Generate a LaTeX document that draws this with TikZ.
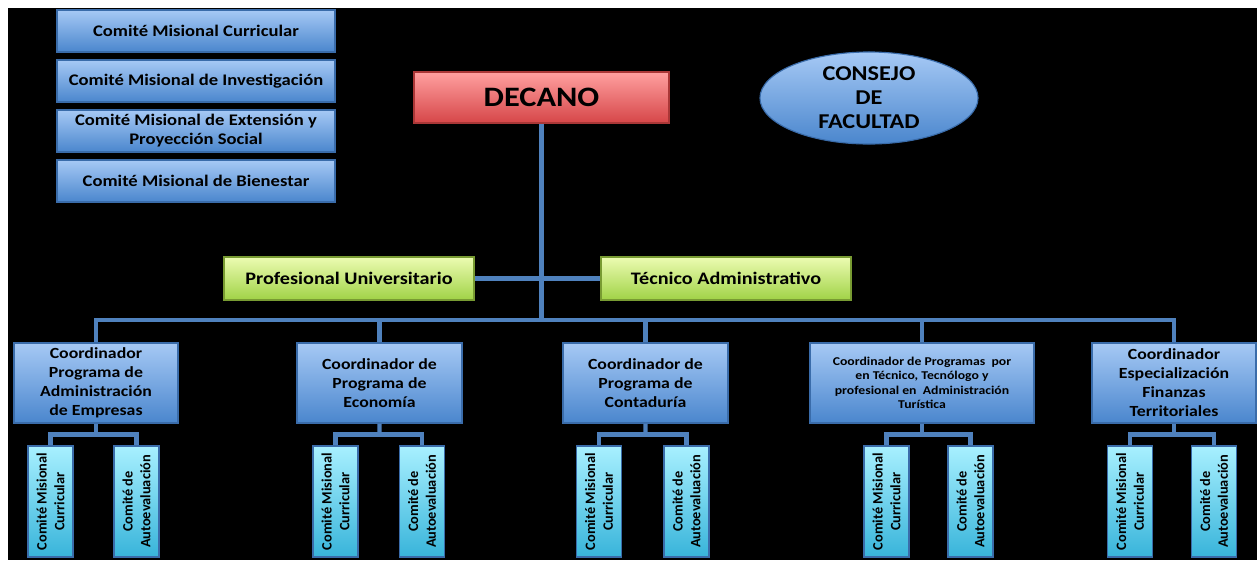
\documentclass[tikz,border=0pt]{standalone}
\usepackage{fontspec}
\setmainfont{Carlito}[FakeStretch=1.15]
\newfontfamily\subfont{Carlito}
\usetikzlibrary{positioning,calc,shapes.geometric}
\definecolor{colBlueTop}{RGB}{166,201,245}
\definecolor{colBlueBot}{RGB}{74,134,205}
\definecolor{colBlueBorder}{RGB}{58,108,170}
\definecolor{colRedTop}{RGB}{255,160,160}
\definecolor{colRedBot}{RGB}{214,70,72}
\definecolor{colRedBorder}{RGB}{170,55,55}
\definecolor{colGreenTop}{RGB}{236,252,178}
\definecolor{colGreenBot}{RGB}{160,210,70}
\definecolor{colGreenBorder}{RGB}{120,155,50}
\definecolor{colCyanTop}{RGB}{168,240,255}
\definecolor{colCyanBot}{RGB}{56,180,218}
\definecolor{lineBlue}{RGB}{79,129,189}

\begin{document}
\begin{tikzpicture}[
  x=0.025cm, y=-0.025cm,
  bluebox/.style={rectangle, draw=colBlueBorder, line width=0.8pt,
    top color=colBlueTop, bottom color=colBlueBot, align=center, inner sep=1pt},
  lcom/.style={bluebox, minimum width=6.95cm, minimum height=1.05cm,
    font=\bfseries\fontsize{11.5}{13.5}\selectfont},
  coord/.style={bluebox, minimum width=4.1cm, minimum height=2cm,
    font=\bfseries\fontsize{11}{13.5}\selectfont},
  decano/.style={rectangle, draw=colRedBorder, line width=0.8pt,
    top color=colRedTop, bottom color=colRedBot, minimum width=6.375cm,
    minimum height=1.275cm, font=\bfseries\fontsize{20}{22}\selectfont},
  consejo/.style={ellipse, draw=colBlueBorder, line width=0.8pt, inner sep=0pt,
    top color=colBlueTop, bottom color=colBlueBot, minimum width=5.45cm,
    minimum height=2.3cm, align=center, font=\bfseries\fontsize{15}{17}\selectfont},
  staff/.style={rectangle, draw=colGreenBorder, line width=0.8pt,
    top color=colGreenTop, bottom color=colGreenBot, minimum width=6.25cm,
    minimum height=1.075cm, font=\bfseries\fontsize{12.5}{14}\selectfont},
  subcom/.style={rectangle, draw=colBlueBorder, line width=0.8pt, rotate=90,
    top color=colCyanTop, bottom color=colCyanBot, minimum width=2.775cm,
    minimum height=1.125cm, inner sep=1pt, align=center,
    font=\subfont\bfseries\fontsize{10.2}{12.5}\selectfont},
  link/.style={draw=lineBlue, line width=3pt}]

  % background
  \useasboundingbox (0,0) rectangle (1257,560);
  \fill[black] (8,8) rectangle (1257,560);

  % committees of the faculty
  \node[lcom] (mcur) at (196,31)  {Comité Misional Curricular};
  \node[lcom] (minv) at (196,81)  {Comité Misional de Investigación};
  \node[lcom] (mext) at (196,131) {Comité Misional de Extensión y\\Proyección Social};
  \node[lcom] (mbie) at (196,181) {Comité Misional de Bienestar};

  \node[decano]  (dec) at (541.5,97.5) {DECANO};
  \node[consejo] (cons) at (869,98) {CONSEJO\\DE\\FACULTAD};

  \node[staff] (prof) at (349,278.5) {Profesional Universitario};
  \node[staff] (tec)  at (726,278.5) {Técnico Administrativo};

  % coordinators
  \node[coord] (c1) at (96,383)    {Coordinador\\Programa de\\Administración\\de Empresas};
  \node[coord, minimum width=4.125cm] (c2) at (379.5,383) {Coordinador de\\Programa de\\Economía};
  \node[coord, minimum width=4.125cm] (c3) at (645.5,383) {Coordinador de\\Programa de\\Contaduría};
  \node[coord, minimum width=5.6cm, font=\bfseries\fontsize{8.5}{10.2}\selectfont]
    (c4) at (922,383) {Coordinador de Programas\ \ por\\en Técnico, Tecnólogo y\\profesional en\ \ Administración\\Turística};
  \node[coord] (c5) at (1174,383)  {Coordinador\\Especialización\\Finanzas\\Territoriales};

  % program committees
  \foreach \i/\xa/\xb in {1/50.5/136.5, 2/335.5/422, 3/599/686.5, 4/886.5/970.5, 5/1130/1214} {
    \node[subcom] (a\i) at (\xa,501.5) {Comité Misional\\Curricular};
    \node[subcom] (b\i) at (\xb,501.5) {Comité de\\Autoevaluación};
  }

  % connectors
  \coordinate (bus) at (dec.south |- 0,320);
  \draw[link] (dec.south) -- (bus);
  \draw[link] (prof.east) -- (tec.west);
  \draw[link] (c1.north) |- (bus) -| (c5.north);
  \foreach \i in {2,3,4} {
    \draw[link] (c\i.north) -- (c\i.north |- bus);
  }
  \foreach \i in {1,...,5} {
    \coordinate (j\i) at ($(c\i.south)!0.5!(c\i.south |- a\i.east)$);
    \draw[link] (c\i.south) -- (j\i);
    \draw[link] (a\i.east) |- (j\i) -| (b\i.east);
  }
\end{tikzpicture}
\end{document}
